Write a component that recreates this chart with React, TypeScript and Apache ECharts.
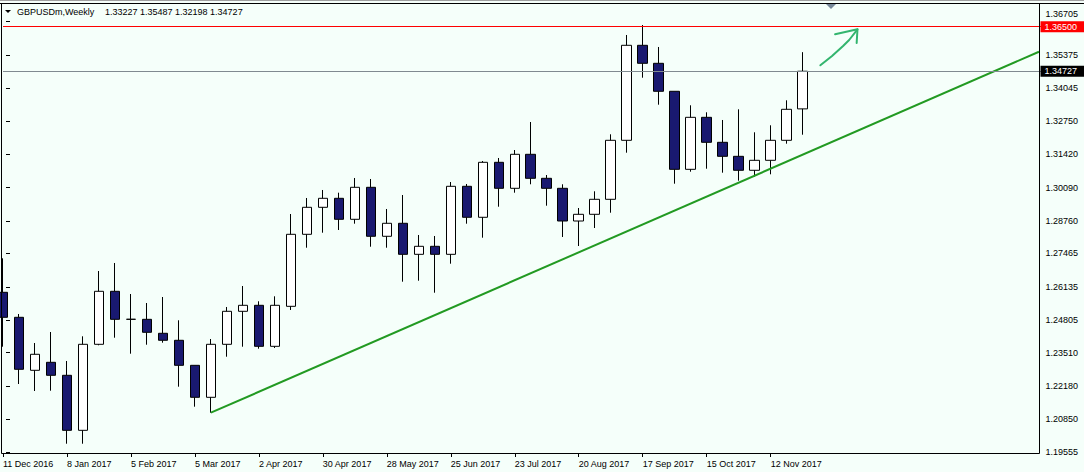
import React, { useEffect, useRef } from 'react';
import * as echarts from 'echarts';

const BG = '#f5fffa';
const FONT = '"Liberation Sans", Arial, sans-serif';

// Weekly date tick labels (every 4th week, starting at the first candle)
const dateLabels = [
  '11 Dec 2016', '8 Jan 2017', '5 Feb 2017', '5 Mar 2017', '2 Apr 2017', '30 Apr 2017',
  '28 May 2017', '25 Jun 2017', '23 Jul 2017', '20 Aug 2017', '17 Sep 2017', '15 Oct 2017', '12 Nov 2017',
];

// Price scale tick labels
const priceTicks = [
  1.19555, 1.2085, 1.2218, 1.2351, 1.24805, 1.26135, 1.27465,
  1.2876, 1.3009, 1.3142, 1.3275, 1.34045, 1.35375, 1.36705,
];

const opens = [
  1.25918, 1.24922, 1.2281, 1.23129, 1.22611, 1.20419, 1.23846, 1.25958, 1.24845, 1.24842,
  1.24285, 1.24006, 1.23009, 1.21734, 1.23846, 1.25161, 1.254, 1.23766, 1.2536, 1.28229,
  1.29305, 1.29664, 1.28827, 1.30102, 1.2815, 1.28668, 1.27432, 1.27751, 1.27432, 1.30142,
  1.28907, 1.31098, 1.30062, 1.31417, 1.30461, 1.30062, 1.28759, 1.29026, 1.29624, 1.31975,
  1.3576, 1.35043, 1.33928, 1.30819, 1.32891, 1.31895, 1.31337, 1.3078, 1.31178, 1.31975,
  1.33227,
];
const closes = [
  1.24922, 1.2285, 1.23448, 1.22611, 1.20419, 1.23846, 1.25958, 1.24842, 1.24842, 1.24324,
  1.24006, 1.23009, 1.21734, 1.23846, 1.25161, 1.254, 1.23766, 1.254, 1.28229, 1.29305,
  1.29664, 1.28827, 1.30102, 1.2815, 1.28668, 1.27432, 1.27751, 1.27432, 1.30142, 1.28907,
  1.31098, 1.30062, 1.31417, 1.30461, 1.30062, 1.28759, 1.29026, 1.29624, 1.31975, 1.3576,
  1.35043, 1.33928, 1.30819, 1.32891, 1.31895, 1.31337, 1.3078, 1.31178, 1.31975, 1.3321,
  1.34727,
];
const highs = [
  1.27273, 1.25054, 1.23898, 1.24336, 1.23181, 1.24165, 1.26767, 1.27086, 1.2585, 1.25492,
  1.25731, 1.24803, 1.23009, 1.24057, 1.25333, 1.26169, 1.2556, 1.25759, 1.29038, 1.29676,
  1.29995, 1.29887, 1.30473, 1.30433, 1.29238, 1.29795, 1.28202, 1.28162, 1.30313, 1.30234,
  1.3115, 1.3127, 1.31588, 1.32704, 1.30592, 1.30222, 1.29277, 1.29943, 1.32214, 1.36171,
  1.36569, 1.35693, 1.33928, 1.3337, 1.33091, 1.32784, 1.3321, 1.32294, 1.32573, 1.33569,
  1.35487,
];
const lows = [
  1.2375, 1.22264, 1.21985, 1.21997, 1.19885, 1.19885, 1.23806, 1.24109, 1.23472, 1.2383,
  1.2391, 1.22157, 1.2136, 1.21121, 1.23352, 1.2375, 1.23671, 1.23699, 1.25213, 1.27695,
  1.28293, 1.28401, 1.28652, 1.27735, 1.27695, 1.26341, 1.2638, 1.25902, 1.27058, 1.28652,
  1.28094, 1.29329, 1.29887, 1.30222, 1.29369, 1.28122, 1.27763, 1.2848, 1.2909, 1.31481,
  1.34469, 1.33394, 1.30246, 1.30724, 1.30843, 1.30684, 1.30365, 1.30525, 1.3062, 1.3184,
  1.32198,
];

const WEEK_SLOTS = 66; // visible weekly slots incl. empty future space
const resistance = 1.365;
const lastClose = 1.34727;

// Trend line: [week index, price]
const trendLine = [[13, 1.21121], [64.78, 1.35505]];
// Hand-drawn arrow: [week index, price]
const arrowShaft = [[51.11, 1.34963], [51.84, 1.35334], [52.53, 1.35733], [52.91, 1.35972], [53.43, 1.36398]];
const arrowHead = [[52.03, 1.36199], [53.43, 1.36398], [53.38, 1.35852]];

const Y_MIN = 1.19515;
const Y_MAX = 1.37446;

function priceLabel(bg: string) {
  return {
    show: true,
    position: 'end',
    distance: -2,
    formatter: (p: any) => Number(p.value).toFixed(5),
    backgroundColor: bg,
    color: '#ffffff',
    fontSize: 9,
    fontFamily: FONT,
    lineHeight: 10,
    padding: [1, 8, 0, 4],
  };
}

export default function App() {
  const ref = useRef<HTMLDivElement>(null);

  useEffect(() => {
    document.body.style.margin = '0';
    document.body.style.background = BG;
    const chart = echarts.init(ref.current as HTMLDivElement, null, { renderer: 'svg' });
    const weeks = Array.from({ length: WEEK_SLOTS }, (_, i) => String(i));
    const candles = opens.map((o, i) => [o, closes[i], lows[i], highs[i]]);
    const showTick = (idx: number) => idx % 4 === 0 && idx / 4 < dateLabels.length;
    const topTick = priceTicks[priceTicks.length - 1];

    chart.setOption({
      animation: false,
      backgroundColor: BG,
      grid: { left: 2.5, top: 3, width: 1040, height: 450, containLabel: false },
      xAxis: [
        {
          type: 'category',
          data: weeks,
          boundaryGap: false,
          axisLine: { show: false },
          axisTick: { show: true, interval: (idx: number) => showTick(idx), length: 4, lineStyle: { color: '#000' } },
          axisLabel: {
            interval: (idx: number) => showTick(idx),
            formatter: (_v: string, idx: number) => (showTick(idx) ? dateLabels[idx / 4] : ''),
            align: 'left',
            color: '#000',
            fontSize: 9,
            fontFamily: FONT,
            margin: 6,
            hideOverlap: false,
          },
          splitLine: { show: false },
        },
        { type: 'value', min: 0, max: WEEK_SLOTS - 1, show: false },
      ],
      yAxis: {
        type: 'value',
        position: 'right',
        offset: -3,
        min: Y_MIN,
        max: Y_MAX,
        axisLine: { show: false },
        axisTick: { show: true, customValues: priceTicks, length: 4, lineStyle: { color: '#000' } },
        axisLabel: {
          customValues: priceTicks,
          formatter: (v: number) => (Math.abs(v - topTick) < 1e-7 ? `{top|${v.toFixed(5)}}` : v.toFixed(5)),
          color: '#000',
          fontSize: 9,
          fontFamily: FONT,
          margin: 6,
          rich: {
            top: { fontSize: 9, fontFamily: FONT, color: '#000', lineHeight: 10, padding: [0, 0, 15, 0] },
          },
        },
        splitLine: { show: false },
      },
      series: [
        {
          type: 'candlestick',
          data: candles,
          barWidth: 10,
          silent: true,
          emphasis: { disabled: true },
          itemStyle: {
            color: '#ffffff',
            color0: '#191970',
            borderColor: '#000000',
            borderColor0: '#000000',
            borderColorDoji: '#000000',
            borderWidth: 1,
          },
          markLine: {
            silent: true,
            symbol: ['none', 'none'],
            precision: 5,
            animation: false,
            itemStyle: { color: '#ff0000' },
            lineStyle: { color: '#ff0000', width: 1, type: 'solid' },
            label: priceLabel('#ff0000'),
            emphasis: { disabled: true },
            data: [{ yAxis: resistance, lineStyle: { color: '#ff0000' } }],
          },
        },
        {
          type: 'line',
          xAxisIndex: 1,
          data: trendLine,
          symbol: 'none',
          silent: true,
          lineStyle: { color: '#229a22', width: 2 },
          z: 3,
        },
        {
          type: 'line',
          xAxisIndex: 1,
          data: [],
          symbol: 'none',
          silent: true,
          color: '#808a90',
          z: 2,
          markLine: {
            silent: true,
            symbol: ['none', 'none'],
            precision: 5,
            animation: false,
            itemStyle: { color: '#808a90' },
            lineStyle: { color: '#808a90', width: 1, type: 'solid' },
            label: priceLabel('#000000'),
            emphasis: { disabled: true },
            data: [{ yAxis: lastClose, lineStyle: { color: '#808a90' } }],
          },
        },
        {
          type: 'line',
          xAxisIndex: 1,
          data: arrowShaft,
          symbol: 'none',
          silent: true,
          lineStyle: { color: '#33b56e', width: 2, cap: 'round', join: 'round' },
          z: 3,
        },
        {
          type: 'line',
          xAxisIndex: 1,
          data: arrowHead,
          symbol: 'none',
          silent: true,
          lineStyle: { color: '#33b56e', width: 2, cap: 'round', join: 'round' },
          z: 3,
        },
      ],
      graphic: [
        { type: 'line', shape: { x1: 0, y1: 0.5, x2: 1084, y2: 0.5 }, style: { stroke: '#a0a0a0', lineWidth: 1 }, z: 50 },
        { type: 'line', shape: { x1: 0, y1: 3.5, x2: 1084, y2: 3.5 }, style: { stroke: '#000', lineWidth: 1 }, z: 50 },
        { type: 'line', shape: { x1: 1.5, y1: 3.5, x2: 1.5, y2: 453.5 }, style: { stroke: '#000', lineWidth: 1 }, z: 50 },
        { type: 'line', shape: { x1: 1039.5, y1: 3.5, x2: 1039.5, y2: 453.5 }, style: { stroke: '#000', lineWidth: 1 }, z: 50 },
        { type: 'line', shape: { x1: 1.5, y1: 453.5, x2: 1039.5, y2: 453.5 }, style: { stroke: '#000', lineWidth: 1 }, z: 50 },
        { type: 'polygon', shape: { points: [[5, 10], [11, 10], [8, 13]] }, style: { fill: '#000' }, z: 50 },
        { type: 'polygon', shape: { points: [[826, 4], [836, 4], [831, 9]] }, style: { fill: '#778899' }, z: 50 },
        {
          type: 'text', x: 17, y: 12, z: 50,
          style: { text: 'GBPUSDm,Weekly', fill: '#000', font: `9px ${FONT}`, verticalAlign: 'middle' },
        },
        {
          type: 'text', x: 105, y: 12, z: 50,
          style: { text: '1.33227 1.35487 1.32198 1.34727', fill: '#000', font: `9px ${FONT}`, verticalAlign: 'middle' },
        },
      ],
    });

    return () => chart.dispose();
  }, []);

  return <div ref={ref} style={{ width: 1084, height: 472 }} />;
}
